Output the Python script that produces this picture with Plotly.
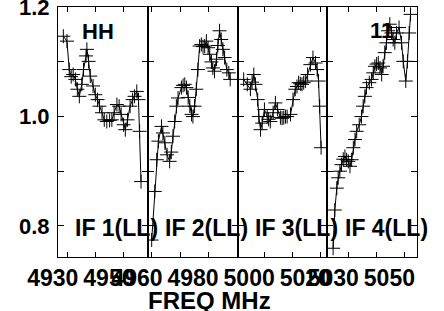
import plotly.graph_objects as go
from plotly.subplots import make_subplots

# ---- data (frequency in MHz, amplitude ratio) ----
freq_if1 = [4928.4, 4929.7, 4930.5, 4931.2, 4931.9, 4932.7, 4933.4, 4934.1, 4935.0, 4935.6,
            4936.5, 4936.8, 4937.4, 4938.0, 4939.0, 4939.8, 4940.6, 4941.3, 4942.2, 4943.0,
            4943.9, 4944.9, 4945.7, 4946.5, 4947.5, 4948.3, 4949.0, 4949.9, 4950.5, 4951.3,
            4952.2, 4953.1, 4953.8, 4954.6, 4955.2, 4955.6, 4956.1]
amp_if1 = [1.147, 1.138, 1.086, 1.073, 1.077, 1.068, 1.050, 1.037, 1.059, 1.086,
           1.111, 1.123, 1.101, 1.074, 1.056, 1.040, 1.031, 1.019, 1.007, 0.994,
           0.991, 0.993, 0.994, 1.007, 1.022, 1.019, 1.004, 0.985, 0.976, 0.994,
           1.019, 1.031, 1.037, 1.046, 1.031, 0.973, 0.881]

freq_if2 = [4959.9, 4961.0, 4961.7, 4962.3, 4963.4, 4963.9, 4964.6, 4965.4, 4966.3, 4966.9,
            4967.5, 4968.1, 4968.7, 4969.3, 4970.5, 4971.1, 4971.7, 4972.3, 4972.9, 4973.5,
            4974.1, 4974.6, 4975.2, 4975.8, 4976.4, 4977.0, 4977.6, 4978.2, 4978.8, 4979.4,
            4980.0, 4980.6, 4981.2, 4981.7, 4982.3, 4983.0, 4983.5, 4984.1, 4984.7, 4985.3,
            4985.9, 4986.7, 4987.4, 4987.9]
amp_if2 = [0.774, 0.863, 0.921, 0.955, 0.982, 0.970, 0.952, 0.930, 0.918, 0.935,
           0.964, 0.991, 1.019, 1.034, 1.053, 1.057, 1.059, 1.053, 1.035, 1.019,
           1.004, 1.000, 1.019, 1.050, 1.086, 1.129, 1.132, 1.128, 1.129, 1.138,
           1.126, 1.114, 1.100, 1.089, 1.083, 1.105, 1.130, 1.157, 1.141, 1.123,
           1.108, 1.086, 1.080, 1.068]

freq_if3 = [4992.7, 4994.0, 4995.1, 4995.7, 4996.3, 4996.9, 4997.7, 4998.1, 4998.7, 4999.3,
            5000.1, 5001.1, 5001.6, 5002.2, 5003.2, 5004.0, 5004.8, 5005.8, 5006.4, 5007.0,
            5007.6, 5008.2, 5009.4, 5010.3, 5011.1, 5011.7, 5012.3, 5012.9, 5013.5, 5014.1,
            5014.7, 5015.5, 5016.5, 5017.4, 5018.3, 5018.9, 5019.4, 5019.8, 5020.3]
amp_if3 = [1.068, 1.059, 1.050, 1.063, 1.077, 1.059, 1.031, 1.000, 0.976, 0.988,
           1.013, 1.000, 0.995, 0.991, 1.007, 1.025, 1.013, 0.998, 0.997, 0.998,
           1.000, 1.000, 1.004, 1.031, 1.050, 1.055, 1.062, 1.060, 1.059, 1.062,
           1.065, 1.077, 1.095, 1.108, 1.098, 1.086, 1.065, 1.019, 0.943]

freq_if4 = [5024.6, 5025.2, 5025.9, 5026.4, 5027.0, 5027.6, 5028.2, 5028.8, 5029.4, 5030.0,
            5030.6, 5031.2, 5031.8, 5032.4, 5033.0, 5033.9, 5034.7, 5035.3, 5035.9, 5036.5,
            5037.5, 5038.3, 5038.9, 5039.5, 5040.1, 5040.7, 5041.3, 5041.9, 5042.4, 5043.0,
            5043.6, 5044.2, 5044.8, 5045.4, 5046.0, 5046.6, 5047.2, 5048.1, 5049.0, 5049.6,
            5050.5, 5051.1, 5051.7, 5052.2]
amp_if4 = [0.759, 0.829, 0.869, 0.888, 0.900, 0.912, 0.922, 0.927, 0.921, 0.918,
           0.909, 0.921, 0.943, 0.958, 0.973, 0.985, 1.000, 1.019, 1.037, 1.053,
           1.062, 1.068, 1.080, 1.092, 1.096, 1.098, 1.089, 1.077, 1.092, 1.117,
           1.135, 1.157, 1.169, 1.153, 1.141, 1.135, 1.153, 1.163, 1.135, 1.101,
           1.065, 1.101, 1.153, 1.187]

panel_ranges = [[4926.5, 4958.5], [4958.5, 4990.5], [4990.5, 5022.5], [5022.5, 5054.5]]
panel_ticks = [[4930, 4940, 4950], [4960, 4970, 4980], [5000, 5010, 5020], [5030, 5040, 5050]]
panel_ticktext = [["4930", "", "4950"], ["4960", "", "4980"], ["5000", "", "5020"], ["5030", "", "5050"]]
panel_labels = ["IF 1(LL)", "IF 2(LL)", "IF 3(LL)", "IF 4(LL)"]
y_ticks = [0.8, 0.9, 1.0, 1.1, 1.2]
y_ticktext = ["0.8", "", "1.0", "", "1.2"]
y_range = [0.743, 1.2005]

series = [(freq_if1, amp_if1), (freq_if2, amp_if2), (freq_if3, amp_if3), (freq_if4, amp_if4)]

FONT = "Liberation Sans"


def bold(t):
    return f"<b>{t}</b>" if t else ""


fig = make_subplots(rows=1, cols=4, horizontal_spacing=0)

for i, (fx, fy) in enumerate(series):
    fig.add_trace(go.Scatter(
        x=fx, y=fy, mode="lines+markers",
        line=dict(color="black", width=1),
        marker=dict(symbol="cross-thin", size=10, color="black",
                    line=dict(color="black", width=1)),
        showlegend=False), row=1, col=i + 1)
    fig.update_xaxes(range=panel_ranges[i], tickvals=panel_ticks[i],
                     ticktext=[bold(t) for t in panel_ticktext[i]],
                     ticks="inside", ticklen=5, tickcolor="black", showline=True, mirror="ticks",
                     linecolor="black", linewidth=1, showgrid=False, zeroline=False,
                     tickfont=dict(family=FONT, size=23, color="black"),
                     ticklabelshift=-15, ticklabelstandoff=0, automargin=False,
                     ticklabeloverflow="allow",
                     row=1, col=i + 1)
    fig.update_yaxes(range=y_range, tickvals=y_ticks,
                     ticktext=[bold(t) for t in y_ticktext],
                     ticks="inside", ticklen=6, tickcolor="black", showline=True, mirror="ticks",
                     linecolor="black", linewidth=1, showgrid=False, zeroline=False,
                     showticklabels=(i == 0),
                     tickfont=dict(family=FONT, size=22, color="black"),
                     ticklabelstandoff=3, automargin=False, ticklabeloverflow="allow",
                     row=1, col=i + 1)

annotations = []
label_x = [0.042, 0.292, 0.543, 0.794]
for lx, txt in zip(label_x, panel_labels):
    annotations.append(dict(text=bold(txt), x=lx, y=0.116, xref="paper", yref="paper",
                            xanchor="left", yanchor="middle", showarrow=False,
                            font=dict(family=FONT, size=23, color="black")))
annotations.append(dict(text=bold("HH"), x=0.111, y=0.90, xref="paper", yref="paper",
                        xanchor="center", yanchor="middle", showarrow=False,
                        font=dict(family=FONT, size=22, color="black")))
annotations.append(dict(text=bold("11"), x=0.9025, y=0.904, xref="paper", yref="paper",
                        xanchor="center", yanchor="middle", showarrow=False,
                        font=dict(family=FONT, size=22, color="black")))
annotations.append(dict(text=bold("FREQ MHz"), x=0.422, y=-0.172, xref="paper", yref="paper",
                        xanchor="center", yanchor="middle", showarrow=False,
                        font=dict(family=FONT, size=24, color="black")))

fig.update_layout(
    width=444, height=311,
    margin=dict(l=58, r=27, t=7, b=54),
    plot_bgcolor="white", paper_bgcolor="white",
    annotations=annotations,
)

fig.write_html("out.html", config={"displayModeBar": False},
               post_script="document.body.style.margin='0';")
